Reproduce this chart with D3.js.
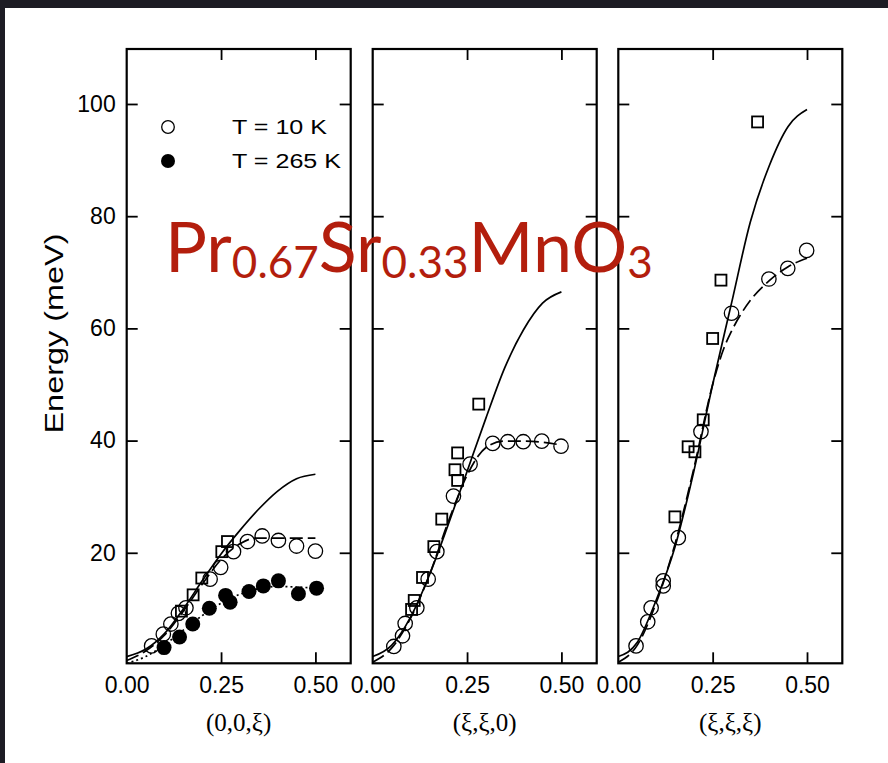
<!DOCTYPE html>
<html><head><meta charset="utf-8">
<script src="https://cdn.jsdelivr.net/npm/d3@7"></script>
<style>html,body{margin:0;padding:0;background:#1d1c24;overflow:hidden}svg{display:block}</style>
</head><body><svg id="c" width="888" height="763"></svg>
<script>
// ---------- data ----------
const panelTitles = ["(0,0,ξ)", "(ξ,ξ,0)", "(ξ,ξ,ξ)"];
const xTicks = [0, 0.25, 0.5];
const xTickLabels = ["0.00", "0.25", "0.50"];
const yTicks = [20, 40, 60, 80, 100];
const yLabel = "Energy (meV)";
const legendLabels = ["T = 10 K", "T = 265 K"];

// Panel 1 (0,0,ξ)
const p1Open = [[0.066,3.4],[0.097,5.5],[0.117,7.3],[0.137,9.2],[0.157,10.2],[0.221,15.3],[0.249,17.4],[0.283,20.2],[0.32,22.0],[0.359,23.0],[0.402,22.2],[0.45,21.2],[0.50,20.3]];
const p1Square = [[0.145,9.6],[0.176,12.5],[0.199,15.5],[0.252,20.2],[0.267,22.0]];
const p1Filled = [[0.099,3.1],[0.140,5.0],[0.175,7.3],[0.219,10.1],[0.262,12.4],[0.274,11.2],[0.324,13.1],[0.362,14.1],[0.402,15.0],[0.455,12.7],[0.503,13.7]];
const p1Solid = [[0,1.5],[0.05,2.8],[0.1,5.6],[0.15,10],[0.2,15],[0.25,19.8],[0.3,24],[0.35,27.8],[0.4,31],[0.45,33.2],[0.5,34]];
const p1Dashed = [[0,0.8],[0.05,2.5],[0.1,5.3],[0.15,9.6],[0.2,14.4],[0.25,18.8],[0.3,21.6],[0.34,22.6],[0.4,22.6],[0.45,22.6],[0.5,22.6]];
const p1Dotted = [[0,0.3],[0.05,1.5],[0.1,3.6],[0.15,6.2],[0.2,8.8],[0.25,11],[0.3,12.6],[0.35,13.6],[0.4,14],[0.45,13.9],[0.5,13.7]];

// Panel 2 (ξ,ξ,0)
const p2Open = [[0.056,3.3],[0.079,5.2],[0.086,7.4],[0.117,10.2],[0.147,15.3],[0.170,20.2],[0.214,30.1],[0.258,35.8],[0.318,39.5],[0.358,39.8],[0.399,39.8],[0.448,39.9],[0.499,39.0]];
const p2Square = [[0.103,9.9],[0.110,11.5],[0.132,15.6],[0.162,21.1],[0.183,26.0],[0.225,32.9],[0.218,34.8],[0.225,37.8],[0.281,46.5]];
const p2Solid = [[0,1.5],[0.05,3.5],[0.1,8.5],[0.15,16],[0.2,25],[0.25,34.5],[0.3,44],[0.35,53],[0.4,59.8],[0.45,64.5],[0.5,66.5]];
const p2Dashed = [[0,0.5],[0.05,3],[0.1,8.3],[0.15,16],[0.2,25.5],[0.25,33.8],[0.28,37.3],[0.31,39.2],[0.35,39.9],[0.4,39.9],[0.45,39.7],[0.5,39.2]];

// Panel 3 (ξ,ξ,ξ)
const p3Open = [[0.047,3.4],[0.078,7.7],[0.087,10.2],[0.119,14.1],[0.119,15.0],[0.159,22.7],[0.219,41.6],[0.300,62.7],[0.399,68.8],[0.449,70.7],[0.499,73.9]];
const p3Square = [[0.150,26.4],[0.185,38.9],[0.203,38.0],[0.225,43.7],[0.250,58.2],[0.272,68.6],[0.369,96.8]];
const p3Solid = [[0,1.5],[0.05,4],[0.1,11.5],[0.15,21],[0.2,34.5],[0.25,50],[0.3,64.5],[0.35,79],[0.4,89],[0.45,96],[0.5,99]];
const p3Dashed = [[0,0.5],[0.05,3.5],[0.1,11],[0.15,21.5],[0.2,35],[0.25,50],[0.28,56.5],[0.3,59.5],[0.35,65],[0.4,68.5],[0.45,71],[0.5,72.5]];

const panels = [
  {open:p1Open, square:p1Square, filled:p1Filled, solid:p1Solid, dashed:p1Dashed, dotted:p1Dotted},
  {open:p2Open, square:p2Square, filled:[], solid:p2Solid, dashed:p2Dashed, dotted:null},
  {open:p3Open, square:p3Square, filled:[], solid:p3Solid, dashed:p3Dashed, dotted:null}
];

// ---------- layout ----------
const svg = d3.select("#c");
svg.append("rect").attr("x",5).attr("y",8).attr("width",883).attr("height",755).attr("fill","#fff");

const panelLeft = [126.7, 372.7, 618.3];
const pw = 224, topY = 49, ph = 614.3;
const x = d3.scaleLinear().domain([0, 0.5935]).range([0, pw]);
const y = d3.scaleLinear().domain([0.3, 109.8]).range([ph, 0]);
const tickFont = "Liberation Sans, Arial, Helvetica, sans-serif";

const line = d3.line().x(d=>x(d[0])).y(d=>y(d[1])).curve(d3.curveMonotoneX);

panels.forEach((p, i) => {
  const g = svg.append("g").attr("transform", `translate(${panelLeft[i]},${topY})`);

  const gb = g.append("g").attr("transform",`translate(0,${ph})`)
    .call(d3.axisBottom(x).tickValues(xTicks).tickFormat((d,j)=>xTickLabels[j]).tickSize(-11).tickPadding(13));
  const gt = g.append("g").call(d3.axisTop(x).tickValues(xTicks).tickSize(-11).tickFormat(""));
  const gl = g.append("g").call(d3.axisLeft(y).tickValues(yTicks).tickSize(-11).tickPadding(11).tickFormat(i===0? d3.format("d") : ""));
  const gr = g.append("g").attr("transform",`translate(${pw},0)`).call(d3.axisRight(y).tickValues(yTicks).tickSize(-11).tickFormat(""));
  [gb,gt,gl,gr].forEach(a=>{
    a.select(".domain").remove();
    a.selectAll(".tick line").attr("stroke","#000").attr("stroke-width",1.8);
    a.selectAll("text").attr("font-family",tickFont).attr("font-size",23).attr("fill","#000");
  });
  gb.selectAll(".tick").filter(d=>d===0).select("line").remove();
  gt.selectAll(".tick").filter(d=>d===0).select("line").remove();

  g.append("rect").attr("width",pw).attr("height",ph).attr("fill","none").attr("stroke","#000").attr("stroke-width",2.2);

  g.append("path").datum(p.solid).attr("d",line).attr("fill","none").attr("stroke","#000").attr("stroke-width",1.7);
  g.append("path").datum(p.dashed).attr("d",line).attr("fill","none").attr("stroke","#000").attr("stroke-width",1.7).attr("stroke-dasharray","13,5");
  if (p.dotted) g.append("path").datum(p.dotted).attr("d",line).attr("fill","none").attr("stroke","#000").attr("stroke-width",1.7).attr("stroke-dasharray","2,3");

  g.selectAll(".sq").data(p.square).enter().append("rect")
    .attr("x",d=>x(d[0])-5.5).attr("y",d=>y(d[1])-5.5).attr("width",11).attr("height",11)
    .attr("fill","none").attr("stroke","#000").attr("stroke-width",1.8);
  g.selectAll(".oc").data(p.open).enter().append("circle")
    .attr("cx",d=>x(d[0])).attr("cy",d=>y(d[1])).attr("r",7.2)
    .attr("fill","none").attr("stroke","#000").attr("stroke-width",1.3);
  g.selectAll(".fc").data(p.filled).enter().append("circle")
    .attr("cx",d=>x(d[0])).attr("cy",d=>y(d[1])).attr("r",7.5).attr("fill","#000");

  svg.append("text").attr("x",panelLeft[i]+pw/2).attr("y",731).attr("text-anchor","middle")
    .attr("font-family","Liberation Serif, Times New Roman, serif").attr("font-size",25).attr("fill","#000")
    .text(panelTitles[i]);
});

// y label
svg.append("text").attr("transform","translate(63,333.5) rotate(-90)").attr("text-anchor","middle")
  .attr("font-family",tickFont).attr("font-size",26).attr("fill","#000")
  .attr("textLength",200).attr("lengthAdjust","spacingAndGlyphs").text(yLabel);

// legend
svg.append("circle").attr("cx",168).attr("cy",127).attr("r",6.3).attr("fill","none").attr("stroke","#000").attr("stroke-width",1.3);
svg.append("circle").attr("cx",168).attr("cy",161).attr("r",7).attr("fill","#000");
svg.append("text").attr("x",232).attr("y",134).attr("font-family",tickFont).attr("font-size",20)
  .attr("textLength",95).attr("lengthAdjust","spacingAndGlyphs").text(legendLabels[0]);
svg.append("text").attr("x",232).attr("y",168).attr("font-family",tickFont).attr("font-size",20)
  .attr("textLength",109).attr("lengthAdjust","spacingAndGlyphs").text(legendLabels[1]);

// red formula title
const t = svg.append("text").attr("x",165).attr("y",272).attr("font-family","Lato, Noto Sans, sans-serif")
  .attr("font-size",70).attr("fill","#b31e0d");
const parts = [["Pr",0],["0.67",1],["Sr",0],["0.33",1],["MnO",0],["3",1]];
parts.forEach(([s,sub],k)=>{
  const ts = t.append("tspan").text(s);
  if (sub) ts.attr("font-size",44).attr("dy", 6);
  else if (k>0) ts.attr("dy",-6);
});
</script></body></html>
